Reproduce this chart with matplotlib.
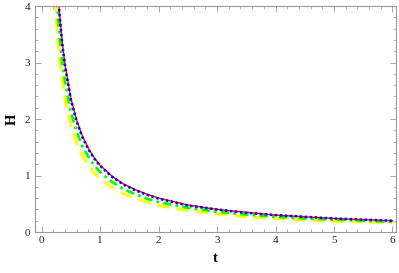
import matplotlib
matplotlib.use("Agg")
import matplotlib.pyplot as plt
from matplotlib.ticker import MultipleLocator

# values
t = [0.2, 0.25, 0.3, 0.35, 0.4, 0.5, 0.6, 0.7, 0.8, 0.9, 1.0, 1.2, 1.4, 1.6,
     1.8, 2.0, 2.5, 3.0, 3.5, 4.0, 4.5, 5.0, 5.5, 6.0]
H_red = [5.90, 4.72, 3.93, 3.37, 2.95, 2.36, 1.97, 1.69, 1.48, 1.31, 1.18, 0.99,
         0.85, 0.75, 0.67, 0.60, 0.48, 0.40, 0.35, 0.30, 0.27, 0.24, 0.22, 0.20]
H_blue = [5.85, 4.68, 3.90, 3.34, 2.93, 2.34, 1.95, 1.67, 1.46, 1.30, 1.17, 0.98,
          0.84, 0.74, 0.66, 0.59, 0.47, 0.40, 0.34, 0.30, 0.27, 0.24, 0.22, 0.20]
H_green = [5.30, 4.24, 3.53, 3.03, 2.65, 2.12, 1.77, 1.51, 1.33, 1.18, 1.06, 0.89,
           0.76, 0.67, 0.59, 0.53, 0.43, 0.36, 0.31, 0.27, 0.24, 0.22, 0.20, 0.18]
H_yellow = [4.70, 3.76, 3.13, 2.69, 2.35, 1.88, 1.57, 1.34, 1.18, 1.04, 0.94, 0.79,
            0.68, 0.59, 0.53, 0.47, 0.38, 0.32, 0.27, 0.24, 0.21, 0.19, 0.18, 0.16]

plt.rcParams['font.family'] = ['Liberation Serif', 'DejaVu Serif']

fig = plt.figure(figsize=(3.99, 2.73), dpi=100)
ax = fig.add_axes([0.0865, 0.150, 0.906, 0.828])

ax.plot(t, H_yellow, color='#ffff00', lw=2.0, dashes=(4.5, 2.5))
ax.plot(t, H_green, color='#00ff00', lw=2.0, dashes=(3, 1.5, 1, 1.5))
ax.plot(t, H_red, color='#ff0000', lw=1.0)
ax.plot(t, H_blue, color='#0000ff', lw=1.8, dashes=(1, 1))

ax.set_xlim(-0.123, 6.06)
ax.set_ylim(0, 4)

ax.xaxis.set_major_locator(MultipleLocator(1))
ax.xaxis.set_minor_locator(MultipleLocator(0.2))
ax.yaxis.set_major_locator(MultipleLocator(1))
ax.yaxis.set_minor_locator(MultipleLocator(0.2))

ax.tick_params(which='both', direction='in', top=True, right=True,
               color='#999999', labelsize=8, labelcolor='#222222')
ax.tick_params(which='major', length=4, width=0.6, pad=3)
ax.tick_params(which='minor', length=2, width=0.5)
for s in ax.spines.values():
    s.set_color('#999999')
    s.set_linewidth(0.8)

ax.set_xlabel('t', fontsize=10.5, fontweight='bold', labelpad=5)
ax.set_ylabel('H', fontsize=10.5, fontweight='bold', labelpad=4)

fig.savefig('out.png', dpi=100)
